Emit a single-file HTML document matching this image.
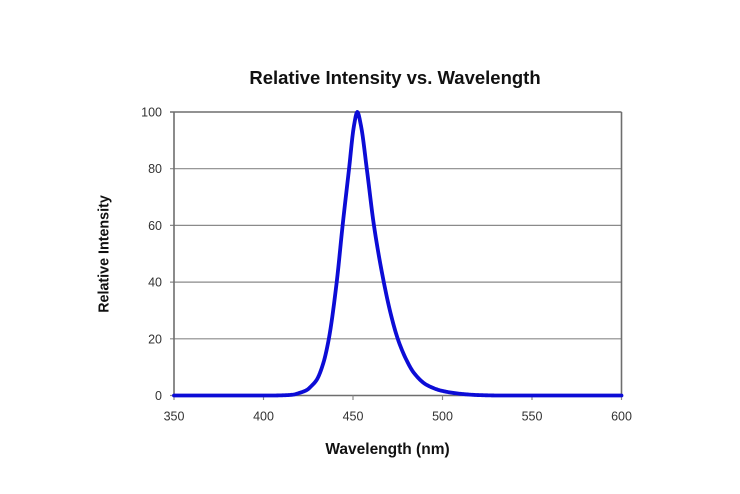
<!DOCTYPE html>
<html>
<head>
<meta charset="utf-8">
<style>
  html,body{margin:0;padding:0;background:#fff;}
  svg{display:block;}
  text{font-family:"Liberation Sans", Arial, sans-serif;}
</style>
</head>
<body>
<svg id="chart" width="740" height="494" viewBox="0 0 740 494" xmlns="http://www.w3.org/2000/svg">
  <rect width="740" height="494" fill="#fff"/>
  <text x="395" y="84" font-size="18.5" font-weight="bold" text-anchor="middle" fill="#111">Relative Intensity vs. Wavelength</text>

  <g stroke="#8a8a8a" stroke-width="1.2" fill="none">
    <line x1="170" y1="168.7" x2="621.5" y2="168.7"/>
    <line x1="170" y1="225.4" x2="621.5" y2="225.4"/>
    <line x1="170" y1="282.1" x2="621.5" y2="282.1"/>
    <line x1="170" y1="338.8" x2="621.5" y2="338.8"/>
    <line x1="170" y1="395.5" x2="174" y2="395.5"/>
  </g>
  <g stroke="#6e6e6e" stroke-width="1.6" fill="none">
    <line x1="170" y1="112" x2="621.5" y2="112"/>
    <line x1="621.5" y1="112" x2="621.5" y2="395.5"/>
    <line x1="174" y1="112" x2="174" y2="395.5"/>
    <line x1="174" y1="395.5" x2="621.5" y2="395.5"/>
  </g>
  <g stroke="#8a8a8a" stroke-width="1.2">
    <line x1="174" y1="395.5" x2="174" y2="400"/>
    <line x1="263.5" y1="395.5" x2="263.5" y2="400"/>
    <line x1="353" y1="395.5" x2="353" y2="400"/>
    <line x1="442.5" y1="395.5" x2="442.5" y2="400"/>
    <line x1="532" y1="395.5" x2="532" y2="400"/>
    <line x1="621.5" y1="395.5" x2="621.5" y2="400"/>
  </g>

  <g font-size="12.5" fill="#333" text-anchor="end">
    <text x="162" y="116.5">100</text>
    <text x="162" y="173.2">80</text>
    <text x="162" y="229.9">60</text>
    <text x="162" y="286.6">40</text>
    <text x="162" y="343.3">20</text>
    <text x="162" y="400">0</text>
  </g>
  <g font-size="12.5" fill="#333" text-anchor="middle">
    <text x="174" y="420.5">350</text>
    <text x="263.5" y="420.5">400</text>
    <text x="353" y="420.5">450</text>
    <text x="442.5" y="420.5">500</text>
    <text x="532" y="420.5">550</text>
    <text x="621.5" y="420.5">600</text>
  </g>

  <text x="387.5" y="454" font-size="15.5" font-weight="bold" text-anchor="middle" fill="#111">Wavelength (nm)</text>
  <text transform="translate(108.5,254) rotate(-90)" x="0" y="0" font-size="14.3" font-weight="bold" text-anchor="middle" fill="#111">Relative Intensity</text>

  <path id="curve" d="" fill="none" stroke="#0c0cd6" stroke-width="3.8" stroke-linejoin="round" stroke-linecap="round"/>
</svg>
<script>
(function(){
  var pts=[[350,0],[405,0],[412,0.1],[416.6,0.3],[420,0.9],[424.1,1.9],[427,3.5],[429.7,5.5],[433.4,11.4],[436.5,20],[440.9,40],[444.2,60],[447.8,80],[450.5,95],[452.4,100],[454.5,95],[457.7,80],[461.7,60],[467.2,40],[471,29],[475,20],[479.5,13],[484,8],[491,3.8],[500,1.6],[510,0.6],[520,0.15],[532,0],[600,0]];
  var n=pts.length,xs=[],ys=[],d=[],m=[];
  for(var i=0;i<n;i++){xs.push(pts[i][0]);ys.push(pts[i][1]);}
  for(i=0;i<n-1;i++){d.push((ys[i+1]-ys[i])/(xs[i+1]-xs[i]));}
  m[0]=d[0];m[n-1]=d[n-2];
  for(i=1;i<n-1;i++){
    if(d[i-1]*d[i]<=0)m[i]=0;
    else{var h0=xs[i]-xs[i-1],h1=xs[i+1]-xs[i];var w1=2*h1+h0,w2=h1+2*h0;m[i]=(w1+w2)/(w1/d[i-1]+w2/d[i]);}
  }
  function X(l){return 174+(l-350)*1.79;}
  function Y(v){return 395.5-v*2.835;}
  var s="";
  for(i=0;i<n-1;i++){
    var h=xs[i+1]-xs[i];
    var steps=Math.max(2,Math.ceil(h*2));
    for(var k=(i==0?0:1);k<=steps;k++){
      var t=k/steps,t2=t*t,t3=t2*t;
      var v=(2*t3-3*t2+1)*ys[i]+(t3-2*t2+t)*h*m[i]+(-2*t3+3*t2)*ys[i+1]+(t3-t2)*h*m[i+1];
      if(v<0)v=0;
      var l=xs[i]+t*h;
      s+=(s?"L":"M")+X(l).toFixed(2)+","+Y(v).toFixed(2);
    }
  }
  document.getElementById("curve").setAttribute("d",s);
})();
</script>
</body>
</html>
